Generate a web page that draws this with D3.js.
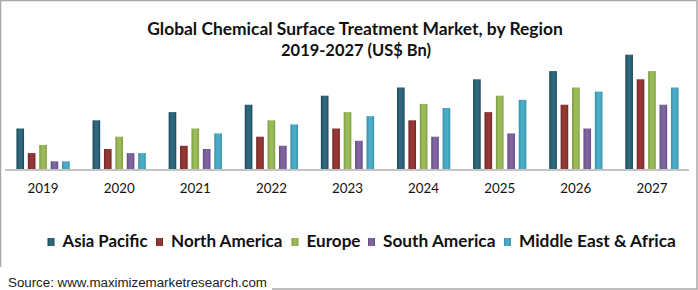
<!DOCTYPE html>
<html>
<head>
<meta charset="utf-8">
<script src="https://cdn.jsdelivr.net/npm/d3@7"></script>
<style>
html, body { margin: 0; padding: 0; background: #fff; }
svg { display: block; }
</style>
</head>
<body>
<svg id="chart" width="698" height="290"></svg>
<script>
// ---- data ----
const years = ["2019", "2020", "2021", "2022", "2023", "2024", "2025", "2026", "2027"];
const seriesNames = ["Asia Pacific", "North America", "Europe", "South America", "Middle East & Africa"];
const asiaPacific   = [5.0, 6.0, 7.0, 7.9, 9.0, 10.0, 11.0, 12.0, 14.0];
const northAmerica  = [2.0, 2.5, 2.9, 4.0, 5.0, 6.0, 7.0, 7.9, 11.0];
const europe        = [3.0, 4.0, 5.0, 6.0, 7.0, 8.0, 9.0, 10.0, 12.0];
const southAmerica  = [1.0, 2.0, 2.5, 2.9, 3.5, 4.0, 4.4, 5.0, 7.9];
const middleEastAfr = [1.0, 2.0, 4.4, 5.5, 6.5, 7.5, 8.5, 9.5, 10.0];
const seriesValues = [asiaPacific, northAmerica, europe, southAmerica, middleEastAfr];
const titleLines = ["Global Chemical Surface Treatment Market, by Region", "2019-2027 (US$ Bn)"];
const sourceText = "Source: www.maximizemarketresearch.com";

// ---- styles ----
const colors = ["#2d687e", "#953735", "#9bbb59", "#8064a2", "#4bacc6"];
const edgeColors = ["#1c4757", "#732826", "#7d9a44", "#634c80", "#3a8ea6"];
const W = 698, H = 290;
const svg = d3.select("#chart");
const fontMain = "Lato, 'Open Sans', 'DejaVu Sans', sans-serif";

// helper: fit text to a target width by adjusting font-size
function fit(sel, target) {
  const fs = parseFloat(sel.attr("font-size"));
  const w = sel.node().getComputedTextLength();
  if (w > 0) sel.attr("font-size", (fs * target / w).toFixed(2));
  return sel;
}

// border
svg.append("rect").attr("x", 0.5).attr("y", 0.5).attr("width", W - 1.5).attr("height", H - 1.5)
  .attr("fill", "#fff").attr("stroke", "#a8a8a8").attr("stroke-width", 1.5);

// gradients
const defs = svg.append("defs");
colors.forEach((c, i) => {
  const g = defs.append("linearGradient").attr("id", "g" + i)
    .attr("x1", "0%").attr("x2", "100%").attr("y1", "0%").attr("y2", "0%");
  g.append("stop").attr("offset", "0%").attr("stop-color", edgeColors[i]);
  g.append("stop").attr("offset", "35%").attr("stop-color", c);
  g.append("stop").attr("offset", "70%").attr("stop-color", c);
  g.append("stop").attr("offset", "100%").attr("stop-color", edgeColors[i]);
});

// title
const t1 = svg.append("text").attr("x", 355).attr("y", 35).attr("text-anchor", "middle")
  .attr("font-family", fontMain).attr("font-weight", "bold").attr("font-size", 16)
  .attr("fill", "#111").text(titleLines[0]);
fit(t1, 416);
const t2 = svg.append("text").attr("x", 356).attr("y", 56).attr("text-anchor", "middle")
  .attr("font-family", fontMain).attr("font-weight", "bold").attr("font-size", 16)
  .attr("fill", "#111").text(titleLines[1]);
fit(t2, 150);

// scales
const x0 = d3.scaleBand().domain(years).range([5, 690]).paddingInner(0.3).paddingOuter(0.15);
const x1 = d3.scaleBand().domain(seriesNames).range([0, x0.bandwidth()]).paddingInner(0.33);
const baseY = 169.5;
const y = d3.scaleLinear().domain([0, 14]).range([baseY, baseY - 114.8]);

// bars
const groups = svg.append("g").selectAll("g").data(years).join("g")
  .attr("transform", d => `translate(${x0(d)},0)`);
groups.selectAll("rect")
  .data((yr, yi) => seriesNames.map((s, si) => ({ s, si, v: seriesValues[si][yi] })))
  .join("rect")
  .attr("x", d => x1(d.s))
  .attr("width", x1.bandwidth())
  .attr("y", d => y(d.v))
  .attr("height", d => baseY - y(d.v))
  .attr("fill", d => `url(#g${d.si})`);

// axis
const xAxis = d3.axisBottom(x0).tickSize(0).tickPadding(0);
const ax = svg.append("g").attr("transform", `translate(0,${baseY})`).call(xAxis);
ax.select(".domain").remove();
svg.append("line").attr("x1", 5).attr("x2", 689).attr("y1", baseY + 0.5).attr("y2", baseY + 0.5)
  .attr("stroke", "#c4c4c4").attr("stroke-width", 2);
ax.selectAll(".tick text")
  .attr("y", 23.5).attr("dy", null)
  .attr("font-family", fontMain).attr("font-size", 15).attr("fill", "#111");
ax.selectAll(".tick text").each(function () { fit(d3.select(this), 31); });

// legend
const legendTextX = [62.5, 171, 306.5, 383, 519];
const legendTextW = [85, 111.5, 54, 112.5, 157];
const leg = svg.append("g");
seriesNames.forEach((s, i) => {
  leg.append("rect").attr("x", legendTextX[i] - 15).attr("y", 238).attr("width", 7).attr("height", 8)
    .attr("fill", `url(#g${i})`);
  const tt = leg.append("text").attr("x", legendTextX[i]).attr("y", 246.5)
    .attr("font-family", fontMain).attr("font-weight", "bold").attr("font-size", 16)
    .attr("fill", "#111").text(s);
  fit(tt, legendTextW[i]);
});

// source box
svg.append("rect").attr("x", 0).attr("y", 267).attr("width", 272).attr("height", 23).attr("fill", "#fff");
const st = svg.append("text").attr("x", 8).attr("y", 286.5)
  .attr("font-family", "'Liberation Sans Narrow', 'Liberation Sans', Arial, sans-serif")
  .attr("font-size", 14).attr("fill", "#222").text(sourceText);
fit(st, 259);
</script>
</body>
</html>
